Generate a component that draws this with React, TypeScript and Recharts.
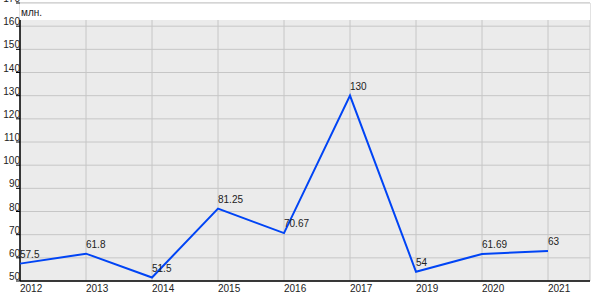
import React from 'react';
import { LineChart, Line, XAxis, YAxis, CartesianGrid, ReferenceArea, ReferenceLine, LabelList } from 'recharts';

const years = ['2012', '2013', '2014', '2015', '2016', '2017', '2019', '2020', '2021'];
const amounts = [57.5, 61.8, 51.5, 81.25, 70.67, 130, 54, 61.69, 63];
const yTicks = [50, 60, 70, 80, 90, 100, 110, 120, 130, 140, 150, 160, 170];
const unitLabel = 'млн.';

const data = years.map((year, i) => ({ year, value: amounts[i] }));

const font = '"Liberation Sans", Arial, sans-serif';
// top of the grey plotting panel (the band above it is white)
const panelTop = 162.66;

const YTick = (props: any) => {
  const { x, y, payload } = props;
  return (
    <text x={x + 4} y={y - 1} textAnchor="end" fontSize={10} fontFamily={font} fill="#222">
      {payload.value}
    </text>
  );
};

const XTick = (props: any) => {
  const { x, y, payload } = props;
  return (
    <text x={x} y={y + 11} textAnchor="start" fontSize={10} fontFamily={font} fill="#222">
      {payload.value}
    </text>
  );
};

const PointLabel = (props: any) => {
  const { x, y, value } = props;
  return (
    <text x={x} y={y - 6} textAnchor="start" fontSize={10} fontFamily={font} fill="#222">
      {value}
    </text>
  );
};

export default function App() {
  return (
    <div style={{ position: 'absolute', left: 0, top: 0, width: 600, height: 300, background: '#fff' }}>
      <LineChart width={600} height={300} data={data} margin={{ top: 3, right: 10, left: 0, bottom: 0 }}>
        <CartesianGrid fill="#ebebeb" stroke="#c6c6c6" strokeWidth={1} />
        <XAxis
          dataKey="year"
          height={19}
          padding={{ left: 0, right: 42 }}
          axisLine={{ stroke: '#000', strokeWidth: 1.5 }}
          tickLine={false}
          tickSize={0}
          tickMargin={0}
          tick={<XTick />}
          interval={0}
        />
        <XAxis xAxisId="frame" type="number" domain={[0, 1]} allowDataOverflow hide />
        <YAxis
          width={20}
          domain={[50, 170]}
          ticks={yTicks}
          interval={0}
          axisLine={false}
          tickLine={{ stroke: '#000' }}
          tickSize={4}
          tickMargin={0}
          tick={<YTick />}
        />
        <ReferenceArea
          xAxisId="frame"
          y1={panelTop}
          y2={170}
          fill="#ffffff"
          fillOpacity={1}
          stroke="none"
          strokeWidth={0}
        />
        <ReferenceLine
          xAxisId="frame"
          y={170}
          stroke="#c6c6c6"
          label={{ value: unitLabel, position: 'insideTopLeft', offset: 6, dx: -5, fontSize: 10, fontFamily: font, fill: '#222' }}
        />
        <ReferenceLine
          xAxisId="frame"
          segment={[{ x: 0, y: 50 }, { x: 0, y: panelTop }]}
          stroke="#000"
          strokeWidth={1.5}
        />
        <Line
          type="linear"
          dataKey="value"
          stroke="#0044f5"
          strokeWidth={2}
          dot={false}
          isAnimationActive={false}
        >
          <LabelList dataKey="value" content={<PointLabel />} />
        </Line>
      </LineChart>
    </div>
  );
}
